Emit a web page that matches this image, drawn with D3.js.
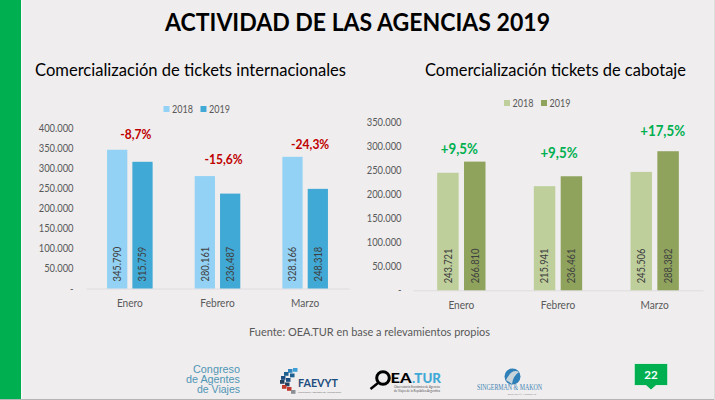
<!DOCTYPE html>
<html>
<head>
<meta charset="utf-8">
<script src="https://cdn.jsdelivr.net/npm/d3@7"></script>
<style>
  html, body { margin: 0; padding: 0; background: #efedee; }
  svg { display: block; font-family: Lato, "Open Sans", sans-serif; }
</style>
</head>
<body>
<svg id="chart" width="715" height="400"></svg>
<script>
var months = ['Enero', 'Febrero', 'Marzo'];
var years = ['2018', '2019'];

var intl2018 = [345790, 280161, 328166];
var intl2019 = [315759, 236487, 248318];
var intlChange = ['-8,7%', '-15,6%', '-24,3%'];
var intlTicks = [0, 50000, 100000, 150000, 200000, 250000, 300000, 350000, 400000];

var domestic2018 = [243721, 215941, 245506];
var domestic2019 = [266810, 236461, 288382];
var domesticChange = ['+9,5%', '+9,5%', '+17,5%'];
var domesticTicks = [0, 50000, 100000, 150000, 200000, 250000, 300000, 350000];

var svg = d3.select('#chart');
var fmt = d3.format(',');
function esNumber(v) {
  return v === 0 ? '-' : fmt(v).replace(/,/g, '.');
}

// Lato runs wider than the slide's font, so pull text in horizontally
function squeeze(sel, k) {
  sel.each(function() {
    d3.select(this)
      .attr('textLength', this.getComputedTextLength() * k)
      .attr('lengthAdjust', 'spacingAndGlyphs');
  });
  return sel;
}

// Slide frame
svg.append('rect').attr('width', 715).attr('height', 400).attr('fill', '#efedee');
svg.append('rect').attr('x', 0).attr('y', 0).attr('width', 21).attr('height', 400).attr('fill', '#00b050');
svg.append('rect').attr('x', 21).attr('y', 0).attr('width', 1.5).attr('height', 400).attr('fill', '#f8f8f8');
svg.append('rect').attr('x', 0).attr('y', 399).attr('width', 715).attr('height', 1).attr('fill', '#b5b5b5');
svg.append('rect').attr('x', 714).attr('y', 0).attr('width', 1).attr('height', 400).attr('fill', '#dcdcdc');

svg.append('text')
  .attr('x', 357.5).attr('y', 31)
  .attr('text-anchor', 'middle')
  .attr('font-size', 24.5).attr('font-weight', 700).attr('fill', '#000')
  .attr('textLength', 385).attr('lengthAdjust', 'spacingAndGlyphs')
  .text('ACTIVIDAD DE LAS AGENCIAS 2019');

function drawPanel(opts) {
  var g = svg.append('g');

  g.append('text')
    .attr('x', opts.titleX).attr('y', 76)
    .attr('font-size', 17.2).attr('fill', '#000')
    .attr('textLength', opts.titleLength).attr('lengthAdjust', 'spacingAndGlyphs')
    .text(opts.title);

  var x0 = d3.scaleBand().domain(months).range(opts.xRange);
  var x1 = d3.scaleBand().domain(years)
    .range([x0.bandwidth() * opts.inset, x0.bandwidth() * (1 - opts.inset)])
    .paddingInner(0.2);
  var y = d3.scaleLinear().domain([0, opts.yMax]).range(opts.yRange);

  // Value axis, labels only
  var yAxis = g.append('g')
    .attr('transform', 'translate(' + opts.yLabelX + ',0)')
    .call(d3.axisLeft(y).tickValues(opts.ticks).tickFormat(esNumber).tickSize(0).tickPadding(0));
  yAxis.select('.domain').remove();
  squeeze(yAxis.selectAll('text')
    .attr('font-family', 'Lato, sans-serif').attr('font-size', 11).attr('fill', '#595959'), 0.85);

  // Category axis
  var xAxis = g.append('g')
    .attr('transform', 'translate(0,' + opts.yRange[0] + ')')
    .call(d3.axisBottom(x0).tickSize(0).tickPadding(opts.catPadding));
  xAxis.select('.domain').attr('stroke', '#dedcdd');
  squeeze(xAxis.selectAll('text')
    .attr('font-family', 'Lato, sans-serif').attr('font-size', 11).attr('fill', '#595959'), 0.92);

  // Bars
  var groups = g.selectAll('.month')
    .data(months)
    .join('g')
      .attr('class', 'month')
      .attr('transform', d => 'translate(' + x0(d) + ',0)');

  years.forEach((year, s) => {
    groups.append('rect')
      .attr('x', x1(year))
      .attr('y', (d, i) => y(opts.series[s][i]))
      .attr('width', x1.bandwidth())
      .attr('height', (d, i) => y(0) - y(opts.series[s][i]))
      .attr('fill', opts.colors[s]);

    squeeze(groups.append('text')
      .attr('transform', 'translate(' + (x1(year) + x1.bandwidth() / 2 + 3.8) + ',' + (y(0) - 7) + ') rotate(-90)')
      .attr('font-size', 11).attr('fill', '#404040')
      .text((d, i) => esNumber(opts.series[s][i])), 0.85);
  });

  // Change labels above each pair
  squeeze(groups.append('text')
    .attr('x', (d, i) => x0.bandwidth() / 2 + opts.changeDx[i])
    .attr('y', (d, i) => y(d3.max([opts.series[0][i], opts.series[1][i]])) - opts.changeLift[i])
    .attr('text-anchor', 'middle')
    .attr('font-size', opts.changeSize).attr('font-weight', 700).attr('fill', opts.changeColor)
    .text((d, i) => opts.change[i]), 0.9);

  // Legend
  var legend = g.selectAll('.legend')
    .data(years)
    .join('g')
      .attr('class', 'legend')
      .attr('transform', (d, i) => 'translate(' + (opts.legendX + i * 37) + ',' + opts.legendY + ')');
  legend.append('rect')
    .attr('x', 0).attr('y', -3).attr('width', 6).attr('height', 6)
    .attr('fill', (d, i) => opts.colors[i]);
  squeeze(legend.append('text')
    .attr('x', 8.5).attr('y', 4)
    .attr('font-size', 10.6).attr('fill', '#595959')
    .text(d => d), 0.85);
}

drawPanel({
  title: 'Comercialización de tickets internacionales',
  titleX: 35,
  titleLength: 311,
  series: [intl2018, intl2019],
  colors: ['#93d2f5', '#41a9d5'],
  change: intlChange,
  changeColor: '#c00000',
  changeSize: 13.4,
  changeDx: [6, 6, 5],
  changeLift: [11, 12, 8],
  ticks: intlTicks,
  yMax: 400000,
  xRange: [86, 349],
  yRange: [288.5, 128],
  inset: 0.24,
  yLabelX: 73.5,
  catPadding: 11,
  legendX: 163.5,
  legendY: 109
});

drawPanel({
  title: 'Comercialización tickets de cabotaje',
  titleX: 425,
  titleLength: 261,
  series: [domestic2018, domestic2019],
  colors: ['#bfcf9c', '#8fa35d'],
  change: domesticChange,
  changeColor: '#00b050',
  changeSize: 14.8,
  changeDx: [-2, 1, 8],
  changeLift: [8, 18, 15],
  ticks: domesticTicks,
  yMax: 350000,
  xRange: [413, 703],
  yRange: [290.3, 121.5],
  inset: 0.25,
  yLabelX: 401.5,
  catPadding: 11,
  legendX: 504,
  legendY: 103
});

svg.append('text')
  .attr('x', 369.5).attr('y', 336)
  .attr('text-anchor', 'middle')
  .attr('font-size', 12).attr('fill', '#595959')
  .attr('textLength', 241).attr('lengthAdjust', 'spacingAndGlyphs')
  .text('Fuente: OEA.TUR en base a relevamientos propios');

// Footer logos, drawn roughly
var congreso = svg.append('g')
  .attr('text-anchor', 'end').attr('font-size', 10.2).attr('fill', '#4f96b5')
  .attr('font-family', 'Liberation Sans, sans-serif');
[['Congreso', 47], ['de Agentes', 54], ['de Viajes', 43]].forEach((t, i) => {
  congreso.append('text').attr('x', 240).attr('y', 373 + i * 10)
    .attr('textLength', t[1]).attr('lengthAdjust', 'spacingAndGlyphs').text(t[0]);
});

var faevyt = svg.append('g');
[[293, 368, '#3d9fd6'], [288, 369, '#2f86c0'], [284, 372, '#1d5f8f'], [290, 373.5, '#1d5f8f'], [281, 376, '#1d4e80'],
 [286, 378, '#1d4e80'], [280, 380, '#24415f'], [285, 382.5, '#24415f'], [282, 385, '#c0392b'], [287, 387, '#c0392b'],
 [291, 390, '#8a8f94']].forEach(b => {
  faevyt.append('rect').attr('x', b[0]).attr('y', b[1]).attr('width', 4.5).attr('height', 3.8).attr('fill', b[2]);
});
faevyt.append('text')
  .attr('x', 298).attr('y', 387)
  .attr('font-size', 10.5).attr('font-weight', 700).attr('fill', '#1d4e80')
  .attr('textLength', 40).attr('lengthAdjust', 'spacingAndGlyphs')
  .text('FAEVYT');
faevyt.append('text')
  .attr('x', 298).attr('y', 392.5)
  .attr('font-size', 2.6).attr('fill', '#777')
  .text('Federación Argentina de Asociaciones');

var oea = svg.append('g');
oea.append('circle').attr('cx', 383).attr('cy', 378).attr('r', 6.3)
  .attr('fill', 'none').attr('stroke', '#000').attr('stroke-width', 3);
oea.append('line').attr('x1', 378).attr('y1', 383).attr('x2', 370.5).attr('y2', 389)
  .attr('stroke', '#000').attr('stroke-width', 2.5);
oea.append('text').attr('x', 390.5).attr('y', 383)
  .attr('font-size', 14).attr('font-weight', 900).attr('fill', '#000')
  .attr('textLength', 21).attr('lengthAdjust', 'spacingAndGlyphs').text('EA');
oea.append('text').attr('x', 412).attr('y', 383)
  .attr('font-size', 14).attr('font-weight', 900).attr('fill', '#41a9d5')
  .attr('textLength', 29).attr('lengthAdjust', 'spacingAndGlyphs').text('.TUR');
oea.append('text').attr('x', 417).attr('y', 388)
  .attr('text-anchor', 'middle').attr('font-size', 3).attr('fill', '#555')
  .attr('textLength', 46).attr('lengthAdjust', 'spacingAndGlyphs')
  .text('Observatorio Económico de Agencias');
oea.append('text').attr('x', 417).attr('y', 392)
  .attr('text-anchor', 'middle').attr('font-size', 3).attr('fill', '#555')
  .attr('textLength', 46).attr('lengthAdjust', 'spacingAndGlyphs')
  .text('de Viajes de la República Argentina');

var sm = svg.append('g');
sm.append('circle').attr('cx', 512.5).attr('cy', 376.5).attr('r', 8).attr('fill', '#2f7fb8');
sm.append('path').attr('d', 'M506 380 Q512 368 519 372 Q513 376 512 384 Z').attr('fill', '#c9d3da');
sm.append('text').attr('x', 509.5).attr('y', 390)
  .attr('text-anchor', 'middle').attr('font-family', 'Liberation Serif, serif')
  .attr('font-size', 7.4).attr('fill', '#3f86b5')
  .attr('textLength', 65).attr('lengthAdjust', 'spacingAndGlyphs')
  .text('SINGERMAN & MAKON');
sm.append('text').attr('x', 522).attr('y', 394.5)
  .attr('text-anchor', 'middle').attr('font-size', 2.6).attr('fill', '#888')
  .text('ECONOMÍA Y TURISMO');

// Page number tag
svg.append('path')
  .attr('d', 'M634.3 363.5 H667.7 V385.5 H656 L651 390 L646 385.5 H634.3 Z')
  .attr('fill', '#00b050').attr('stroke', '#f6f6f6').attr('stroke-width', 0.8);
svg.append('text')
  .attr('x', 651).attr('y', 378.5)
  .attr('text-anchor', 'middle')
  .attr('font-size', 11.5).attr('font-weight', 700).attr('fill', '#fff')
  .text('22');
</script>
</body>
</html>
